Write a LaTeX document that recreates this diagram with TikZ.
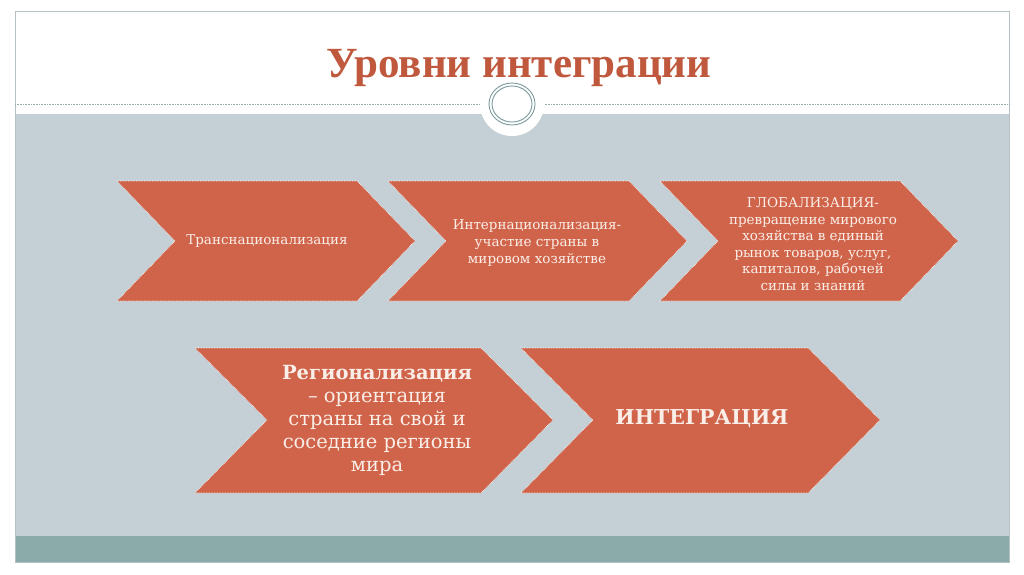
\documentclass[tikz,border=0pt]{standalone}
\usepackage{fontspec}
\setmainfont{DejaVu Serif}
\newfontfamily\headfont{Liberation Serif}
\usetikzlibrary{positioning}

\definecolor{chevfill}{HTML}{D0644A}
\definecolor{headred}{HTML}{C0583E}
\definecolor{panegray}{HTML}{C5D0D6}
\definecolor{bandteal}{HTML}{8BABAA}
\definecolor{ringteal}{HTML}{7D9A9C}
\definecolor{chevtext}{HTML}{FAEEE8}

\begin{document}
\begin{tikzpicture}[x=1pt,y=-1pt,
    chev/.style={fill=chevfill, draw=white, densely dotted, line width=0.6pt},
    small/.style={text=chevtext, align=center, font=\fontsize{13.5}{16.6}\selectfont},
    big/.style={text=chevtext, align=center, font=\fontsize{19.5}{23}\selectfont}]
  % slide background
  \useasboundingbox (0,0) rectangle (1024,574);
  \fill[white] (0,0) rectangle (1024,574);
  \fill[panegray] (15,114) rectangle (1009,536);
  \fill[bandteal] (15,536) rectangle (1009,562);
  \draw[panegray!80!gray, line width=0.8pt] (15,11) rectangle (1009,562);
  \draw[ringteal!80, densely dotted, line width=0.6pt] (15,104) -- (1009,104);

  % ornament
  \fill[white] (512,104) circle (32);
  \draw[ringteal, line width=0.9pt] (512,104) ellipse (23 and 21);
  \draw[ringteal, line width=0.9pt] (512,104) ellipse (20 and 18);

  % title
  \node[anchor=base, text=headred, font=\headfont\bfseries\fontsize{43}{48}\selectfont]
    (title) at (519,77) {Уровни интеграции};

  % first row
  \draw[chev] (117,181) -- (357,181) -- (415,241) -- (357,301) -- (117,301) -- (175,241) -- cycle;
  \draw[chev] (388,181) -- (629,181) -- (687,241) -- (629,301) -- (388,301) -- (446,241) -- cycle;
  \draw[chev] (660,181) -- (900,181) -- (958,241) -- (900,301) -- (660,301) -- (718,241) -- cycle;
  \node[small] (trans) at (267,241) {Транснационализация};
  \node[small] (inter) at (537,243) {Интернационализация-\\участие страны в\\мировом хозяйстве};
  \node[small] (glob)  at (813,244) {ГЛОБАЛИЗАЦИЯ-\\превращение мирового\\хозяйства в единый\\рынок товаров, услуг,\\капиталов, рабочей\\силы и знаний};

  % second row
  \draw[chev] (195,348) -- (481,348) -- (553,420) -- (481,493) -- (195,493) -- (267,420) -- cycle;
  \draw[chev] (521,348) -- (808,348) -- (880,420) -- (808,493) -- (521,493) -- (593,420) -- cycle;
  \node[big] (region) at (377,420) {\textbf{Регионализация}\\– ориентация\\страны на свой и\\соседние регионы\\мира};
  \node[big, font=\bfseries\fontsize{20.5}{24}\selectfont] (integr) at (702,419) {ИНТЕГРАЦИЯ};
\end{tikzpicture}
\end{document}
